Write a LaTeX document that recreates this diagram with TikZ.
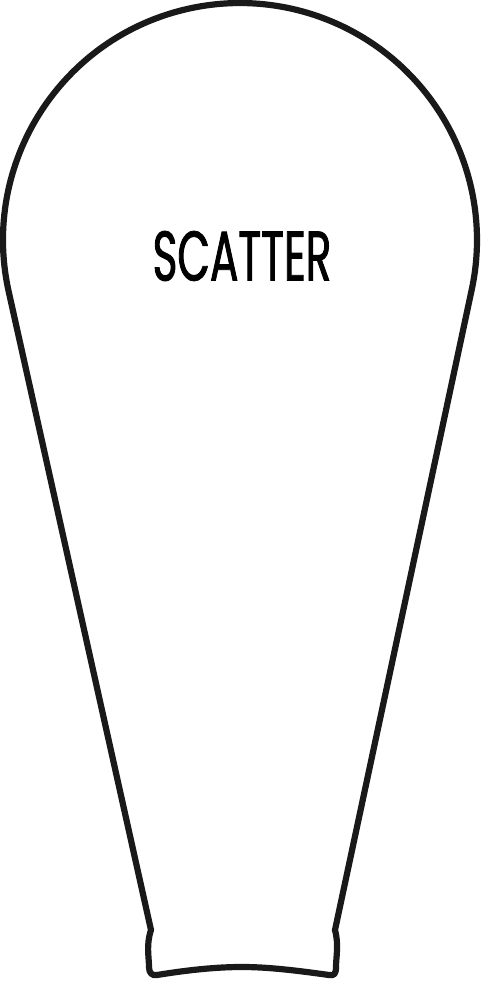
\documentclass[tikz,border=0pt]{standalone}
\usepackage{fontspec}
\newfontfamily\labelfont[FakeStretch=0.6, FakeBold=1.2]{Poppins}

\begin{document}
\begin{tikzpicture}[
    x=0.1mm, y=0.1mm,
    outline/.style={
        draw=black!90,
        line width=0.62mm,
        line join=round
    },
    title/.style={
        inner sep=0pt,
        font=\labelfont\fontsize{20}{22}\selectfont
    }
]

    \useasboundingbox (0,0) rectangle (485,982);

    % Sagoma: cupola in alto, fianchi dritti, fondo svasato
    \draw[outline] (151,52) -- (8.5,691.3)
        arc[start angle=192.35, end angle=-12.35, radius=237]
        -- (335,52)
        .. controls (339,37) and (336,25) .. (336,15)
        .. controls (336,8) and (334,6) .. (329,7)
        .. controls (300,11) and (270,15) .. (242,15)
        .. controls (212,15) and (182,11) .. (157,7)
        .. controls (152,6) and (149,9) .. (149,15)
        .. controls (149,25) and (146,37) .. cycle;

    % Etichetta
    \node[title] (scatter_label) at (242,726) {SCATTER};

\end{tikzpicture}
\end{document}
